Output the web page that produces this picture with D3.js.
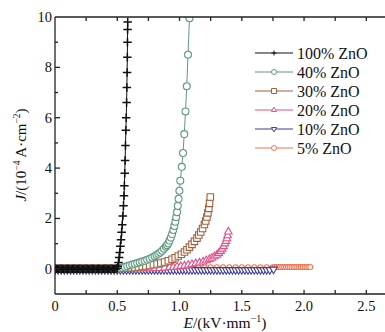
<!DOCTYPE html>
<html>
<head>
<meta charset="utf-8">
<script src="https://cdn.jsdelivr.net/npm/d3@7"></script>
<style>
  body { margin: 0; background: #fff; }
  svg text { font-family: "Liberation Serif", "DejaVu Serif", serif; fill: #111; }
</style>
</head>
<body>
<svg id="chart" width="385" height="332"></svg>
<script>
// series data: [E (kV/mm), J (1e-4 A/cm2)]
const zno100 = [
  [0,0],[0.01,0],[0.02,0],[0.03,0],[0.04,0],[0.05,0],[0.06,0],[0.07,0],[0.08,0],[0.09,0],
  [0.10,0],[0.11,0],[0.12,0],[0.13,0],[0.14,0],[0.15,0],[0.16,0],[0.17,0],[0.18,0],[0.19,0],
  [0.20,0],[0.21,0],[0.22,0],[0.23,0],[0.24,0],[0.25,0],[0.26,0],[0.27,0],[0.28,0],[0.29,0],
  [0.30,0],[0.31,0],[0.32,0],[0.33,0],[0.34,0],[0.35,0],[0.36,0],[0.37,0],[0.38,0],[0.39,0],
  [0.40,0],[0.41,0],[0.42,0],[0.43,0],[0.44,0],[0.45,0],[0.46,0],[0.47,0],[0.48,0],[0.49,0],
  [0.50,0.02],[0.505,0.1],[0.51,0.25],[0.515,0.45],[0.52,0.65],[0.525,0.9],[0.53,1.15],
  [0.535,1.45],[0.54,1.75],[0.545,2.1],[0.55,2.5],[0.554,2.9],[0.557,3.3],[0.56,3.8],[0.563,4.3],
  [0.566,4.9],[0.569,5.5],[0.572,6.0],[0.575,6.6],[0.577,7.2],[0.579,7.8],[0.581,8.4],
  [0.582,9.0],[0.583,9.5],[0.584,9.8]
];
const zno40 = [
  [0.50,0.01],[0.52,0.03],[0.54,0.05],[0.56,0.08],[0.58,0.11],[0.60,0.14],[0.62,0.17],[0.64,0.2],
  [0.66,0.23],[0.68,0.26],[0.70,0.29],[0.72,0.32],[0.74,0.36],[0.76,0.4],[0.78,0.45],[0.80,0.5],
  [0.815,0.55],[0.83,0.6],[0.845,0.65],[0.86,0.72],[0.875,0.8],[0.89,0.88],[0.90,0.94],[0.91,1.01],
  [0.92,1.12],[0.93,1.24],[0.94,1.38],[0.95,1.54],[0.958,1.7],[0.966,1.87],[0.973,2.05],[0.98,2.25],
  [0.986,2.5],[0.992,2.78],[0.999,3.1],[1.006,3.5],[1.018,4.05],[1.028,4.6],[1.038,5.35],
  [1.048,6.25],[1.058,7.25],[1.068,8.5],[1.08,9.95]
];
const zno30 = [
  [0.52,0.01],[0.55,0.02],[0.58,0.03],[0.61,0.04],[0.64,0.05],[0.67,0.07],[0.70,0.09],[0.73,0.11],
  [0.76,0.13],[0.79,0.16],[0.82,0.19],[0.85,0.23],[0.88,0.27],[0.91,0.32],[0.94,0.38],[0.965,0.44],
  [0.99,0.51],[1.015,0.58],[1.04,0.67],[1.06,0.76],[1.08,0.86],[1.10,0.97],[1.12,1.09],[1.14,1.22],
  [1.155,1.34],[1.17,1.46],[1.185,1.6],[1.20,1.76],[1.21,1.9],[1.22,2.06],[1.228,2.22],[1.235,2.4],
  [1.241,2.6],[1.247,2.85]
];
const zno20 = [
  [0.52,0.0],[0.56,0.0],[0.60,0.01],[0.64,0.01],[0.68,0.01],[0.72,0.01],[0.76,0.01],[0.80,0.02],
  [0.84,0.02],[0.88,0.04],[0.92,0.06],[0.95,0.07],[0.98,0.08],[1.01,0.1],[1.04,0.12],[1.07,0.15],
  [1.10,0.18],[1.13,0.21],[1.16,0.24],[1.19,0.28],[1.215,0.33],[1.24,0.38],[1.26,0.43],[1.28,0.49],
  [1.30,0.55],[1.315,0.62],[1.33,0.7],[1.342,0.79],[1.354,0.89],[1.365,1.0],[1.373,1.1],[1.38,1.2],
  [1.386,1.32],[1.392,1.47]
];
const zno10 = [
  [0,-0.04],[0.025,-0.04],[0.05,-0.04],[0.075,-0.04],[0.1,-0.04],[0.125,-0.04],[0.15,-0.04],[0.175,-0.04],
  [0.2,-0.04],[0.225,-0.04],[0.25,-0.04],[0.275,-0.04],[0.3,-0.04],[0.325,-0.04],[0.35,-0.04],[0.375,-0.04],
  [0.4,-0.04],[0.425,-0.04],[0.45,-0.04],[0.475,-0.04],[0.5,-0.04],[0.525,-0.04],[0.55,-0.04],[0.575,-0.04],
  [0.6,-0.04],[0.625,-0.04],[0.65,-0.04],[0.675,-0.04],[0.7,-0.04],[0.725,-0.04],[0.75,-0.04],[0.775,-0.04],
  [0.8,-0.04],[0.825,-0.04],[0.85,-0.04],[0.875,-0.04],[0.9,-0.04],[0.925,-0.04],[0.95,-0.04],[0.975,-0.04],
  [1.0,-0.04],[1.025,-0.04],[1.05,-0.04],[1.075,-0.04],[1.1,-0.04],[1.125,-0.04],[1.15,-0.04],[1.175,-0.04],
  [1.2,-0.04],[1.225,-0.04],[1.25,-0.04],[1.275,-0.04],[1.3,-0.04],[1.325,-0.04],[1.35,-0.04],[1.375,-0.04],
  [1.4,-0.04],[1.425,-0.04],[1.45,-0.04],[1.475,-0.04],[1.5,-0.04],[1.525,-0.04],[1.55,-0.04],[1.575,-0.04],
  [1.6,-0.04],[1.625,-0.04],[1.65,-0.04],[1.675,-0.04],[1.7,-0.04],[1.725,-0.04],[1.755,-0.02]
];
const zno5 = [
  [0,0.06],[0.05,0.06],[0.10,0.06],[0.15,0.06],[0.20,0.06],[0.25,0.06],[0.30,0.06],[0.35,0.06],
  [0.40,0.06],[0.45,0.06],[0.50,0.06],[0.55,0.06],[0.60,0.06],[0.65,0.06],[0.70,0.06],[0.75,0.06],
  [0.80,0.06],[0.85,0.06],[0.90,0.06],[0.95,0.06],[1.00,0.06],[1.05,0.06],[1.10,0.06],[1.15,0.06],
  [1.20,0.06],[1.25,0.06],[1.30,0.06],[1.35,0.06],[1.40,0.06],[1.45,0.06],[1.50,0.06],[1.55,0.06],
  [1.60,0.06],[1.65,0.06],[1.70,0.06],[1.75,0.06],[1.765,0.07],[1.78,0.07],[1.795,0.07],[1.81,0.07],
  [1.825,0.07],[1.84,0.07],[1.855,0.07],[1.87,0.07],[1.885,0.07],[1.90,0.07],[1.915,0.07],[1.93,0.07],
  [1.945,0.07],[1.96,0.07],[1.975,0.07],[1.99,0.07],[2.005,0.07],[2.02,0.07],[2.035,0.07],[2.05,0.07]
];

const legendLabels = ["100% ZnO", "40% ZnO", "30% ZnO", "20% ZnO", "10% ZnO", "5% ZnO"];
const xTickLabels = [0, 0.5, 1.0, 1.5, 2.0, 2.5];
const yTickLabels = [0, 2, 4, 6, 8, 10];

const series = [
  { name: legendLabels[0], data: zno100, color: "#111111", sym: "plus", size: 8.5 },
  { name: legendLabels[1], data: zno40, color: "#5e9a80", sym: d3.symbolCircle, size: 7 },
  { name: legendLabels[2], data: zno30, color: "#a2603a", sym: d3.symbolSquare, size: 6.5 },
  { name: legendLabels[3], data: zno20, color: "#e2508c", sym: d3.symbolTriangle, size: 7.5 },
  { name: legendLabels[4], data: zno10, color: "#3d3d96", sym: "down", size: 7.5 },
  { name: legendLabels[5], data: zno5, color: "#ef7552", sym: d3.symbolCircle, size: 5 }
];

const svg = d3.select("#chart");
const mLeft = 55, mRight = 385, mTop = 17, mBottom = 294;

const x = d3.scaleLinear().domain([0, 2.65]).range([mLeft, mRight]);
const y = d3.scaleLinear().domain([-1, 10]).range([mBottom, mTop]);

svg.append("defs").append("clipPath").attr("id", "clip")
  .append("rect").attr("x", mLeft).attr("y", mTop).attr("width", mRight - mLeft).attr("height", mBottom - mTop);

function marker(sel, sym, size) {
  if (sym === "plus") {
    const h = size / 2;
    sel.append("path").attr("d", `M${-h},0H${h}M0,${-h}V${h}`);
  } else if (sym === "down") {
    sel.append("path").attr("d", d3.symbol(d3.symbolTriangle, size * size * 0.45)).attr("transform", "rotate(180)");
  } else {
    const area = sym === d3.symbolCircle ? size * size * 0.78 : size * size * (sym === d3.symbolSquare ? 1 : 0.45);
    sel.append("path").attr("d", d3.symbol(sym, area));
  }
}

// plot series, lowest first so the 100% curve sits on top
const plot = svg.append("g").attr("clip-path", "url(#clip)");
const line = d3.line().x(d => x(d[0])).y(d => y(d[1]));
const order = [5, 4, 3, 2, 1, 0];
order.forEach(k => {
  const s = series[k];
  const g = plot.append("g");
  g.append("path").datum(s.data).attr("d", line)
    .attr("fill", "none").attr("stroke", s.color).attr("stroke-width", 1);
  g.selectAll("g.m").data(s.data).enter().append("g")
    .attr("transform", d => `translate(${x(d[0])},${y(d[1])})`)
    .each(function () { marker(d3.select(this), s.sym, s.size); })
    .selectAll("path")
    .attr("fill", s.sym === "plus" ? "none" : "#fff")
    .attr("stroke", s.color).attr("stroke-width", s.sym === "plus" ? 1.5 : 1.1);
});

// axes
const axisG = svg.append("g").attr("stroke", "#222").attr("stroke-width", 1.3);
axisG.append("line").attr("x1", mLeft).attr("x2", mLeft).attr("y1", mTop).attr("y2", mBottom);
axisG.append("line").attr("x1", mLeft).attr("x2", mRight).attr("y1", mBottom).attr("y2", mBottom);
axisG.append("line").attr("x1", mLeft).attr("x2", mRight).attr("y1", mTop).attr("y2", mTop);

const xMinor = d3.range(0.25, 2.65, 0.25);
axisG.selectAll("line.xb").data(xMinor).enter().append("line")
  .attr("x1", d => x(d)).attr("x2", d => x(d)).attr("y1", mBottom).attr("y2", mBottom - 4);
axisG.selectAll("line.xt").data(xMinor).enter().append("line")
  .attr("x1", d => x(d)).attr("x2", d => x(d)).attr("y1", mTop).attr("y2", mTop + 4);
const yMinor = d3.range(0, 10, 1);
axisG.selectAll("line.yl").data(yMinor).enter().append("line")
  .attr("x1", mLeft).attr("x2", d => mLeft + (d % 2 === 0 ? 5 : 3)).attr("y1", d => y(d)).attr("y2", d => y(d));

svg.append("g").selectAll("text").data(xTickLabels).enter().append("text")
  .attr("x", d => x(d)).attr("y", 311).attr("text-anchor", "middle")
  .attr("font-size", 14.5).text(d => d === 0 ? "0" : d.toFixed(1));
svg.append("g").selectAll("text").data(yTickLabels).enter().append("text")
  .attr("x", 52).attr("y", d => y(d) + 5).attr("text-anchor", "end")
  .attr("font-size", 14.5).text(d => d);

// axis titles
const xt = svg.append("text").attr("x", 225).attr("y", 328).attr("text-anchor", "middle").attr("font-size", 15.5);
xt.append("tspan").attr("font-style", "italic").text("E");
xt.append("tspan").text("/(kV·mm");
xt.append("tspan").attr("font-size", 10).attr("dy", -6).text("−1");
xt.append("tspan").attr("dy", 6).text(")");

const yt = svg.append("text").attr("transform", "translate(26,155) rotate(-90)").attr("text-anchor", "middle").attr("font-size", 15);
yt.append("tspan").attr("font-style", "italic").text("J");
yt.append("tspan").text("/(10");
yt.append("tspan").attr("font-size", 9.5).attr("dy", -6).text("−4");
yt.append("tspan").attr("dy", 6).text(" A·cm");
yt.append("tspan").attr("font-size", 9.5).attr("dy", -6).text("−2");
yt.append("tspan").attr("dy", 6).text(")");

// legend
const lg = svg.append("g");
series.forEach((s, i) => {
  const ly = 53 + i * 19;
  const row = lg.append("g");
  row.append("line").attr("x1", 255).attr("x2", 293).attr("y1", ly).attr("y2", ly)
    .attr("stroke", s.color).attr("stroke-width", 1.2);
  const m = row.append("g").attr("transform", `translate(274,${ly})`);
  marker(m, s.sym, 5);
  m.selectAll("path").attr("fill", s.sym === "plus" ? "none" : "#fff").attr("stroke", s.color);
  row.append("text").attr("x", 297).attr("y", ly + 5.5).attr("font-size", 16).text(s.name);
});
</script>
</body>
</html>
